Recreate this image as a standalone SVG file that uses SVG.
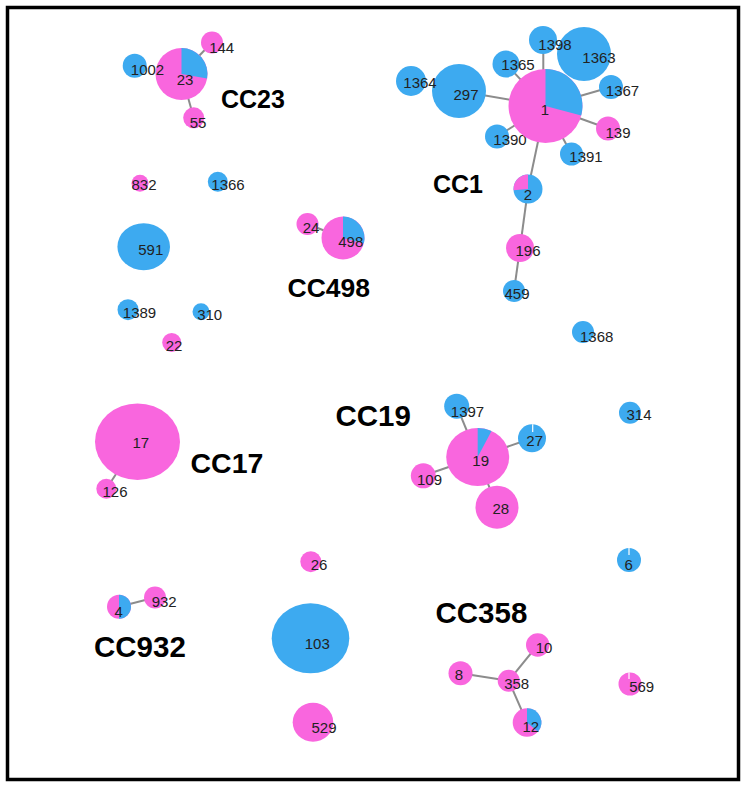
<svg xmlns="http://www.w3.org/2000/svg" width="746" height="787" viewBox="0 0 746 787">
<style>
.p{fill:#F966DE}
.b{fill:#3DAAF0}
.t{font-family:"Liberation Sans",Arial,sans-serif;font-size:15px;fill:#222;text-anchor:middle}
.cc{font-family:"Liberation Sans",Arial,sans-serif;font-weight:bold;fill:#000}
.e{stroke:#8C8C8C;stroke-width:2;fill:none}
.w{stroke:#fff;stroke-width:1.2}
</style>
<rect x="0" y="0" width="746" height="787" fill="#fff"/>
<rect x="7.5" y="7.5" width="731" height="772" fill="none" stroke="#000" stroke-width="3.5"/>
<g id="connectors" class="e">
<line x1="181.5" y1="74" x2="212" y2="42.5"/>
<line x1="181.5" y1="74" x2="193.7" y2="117.8"/>
<line x1="545.5" y1="106" x2="459" y2="91"/>
<line x1="545.5" y1="106" x2="506" y2="64"/>
<line x1="543.3" y1="106" x2="543.3" y2="40"/>
<line x1="545.5" y1="106" x2="611" y2="87"/>
<line x1="545.5" y1="106" x2="608" y2="128.5"/>
<line x1="545.5" y1="106" x2="571.5" y2="154"/>
<line x1="545.5" y1="106" x2="497" y2="136.5"/>
<line x1="545.5" y1="106" x2="528" y2="189"/>
<line x1="528" y1="189" x2="520" y2="248"/>
<line x1="520" y1="248" x2="514" y2="291"/>
<line x1="307.5" y1="224" x2="343" y2="238"/>
<line x1="137.5" y1="441.7" x2="106.3" y2="488.8"/>
<line x1="477.7" y1="457" x2="456.7" y2="406.2"/>
<line x1="477.7" y1="457" x2="532" y2="438.3"/>
<line x1="477.7" y1="457" x2="423.3" y2="475.8"/>
<line x1="477.7" y1="457" x2="497" y2="507.2"/>
<line x1="119" y1="606.7" x2="155" y2="597.5"/>
<line x1="508.7" y1="680.7" x2="537.7" y2="645"/>
<line x1="508.7" y1="680.7" x2="460.5" y2="673.3"/>
<line x1="508.7" y1="680.7" x2="527" y2="722.5"/>
</g>
<!-- CC23 -->
<g id="n144"><circle class="p" cx="212" cy="42.5" r="11"/><text class="t" x="221.7" y="52.5">144</text></g>
<g id="n55"><circle class="p" cx="193.7" cy="117.8" r="10.5"/><text class="t" x="198" y="127.5">55</text></g>
<g id="n23"><circle class="p" cx="181.5" cy="74" r="26"/><path class="b" d="M181.5,74 L181.5,48 A26,26 0 0 1 207.1,78.5 Z"/><text class="t" x="185" y="84.5" font-size="16">23</text></g>
<g id="n1002"><circle class="b" cx="134.7" cy="65.8" r="12"/><text class="t" x="147.5" y="74.5">1002</text></g>
<!-- CC1 -->
<g id="n297"><circle class="b" cx="459" cy="91" r="27"/><text class="t" x="466" y="99.5" font-size="16">297</text></g>
<g id="n1364"><circle class="b" cx="411" cy="81" r="15"/><text class="t" x="420" y="88">1364</text></g>
<g id="n1365"><circle class="b" cx="506" cy="64" r="13.5"/><text class="t" x="518" y="69.5">1365</text></g>
<g id="n1363"><circle class="b" cx="584" cy="54" r="27"/><text class="t" x="599" y="62.5">1363</text></g>
<g id="n1398"><circle class="b" cx="543" cy="40" r="14"/><text class="t" x="555" y="49.5">1398</text></g>
<g id="n1367"><circle class="b" cx="611" cy="87" r="12"/><text class="t" x="622.5" y="96">1367</text></g>
<g id="n139"><circle class="p" cx="608" cy="128.5" r="12"/><text class="t" x="618" y="138">139</text></g>
<g id="n1391"><circle class="b" cx="571.5" cy="154" r="11.5"/><text class="t" x="586" y="162">1391</text></g>
<g id="n1390"><circle class="b" cx="497" cy="136.5" r="12"/><text class="t" x="510" y="144.5">1390</text></g>
<g id="n1"><circle class="p" cx="545.5" cy="106" r="37"/><path class="b" d="M545.5,106 L545.5,69 A37,37 0 0 1 581.2,115.6 Z"/><text class="t" x="545" y="115" font-size="14">1</text></g>
<g id="n2"><circle class="b" cx="528" cy="189" r="14.5"/><path class="p" d="M528,189 L513.6,190.3 A14.5,14.5 0 0 1 528,174.5 Z"/><text class="t" x="528" y="199.5" font-size="13">2</text></g>
<g id="n196"><circle class="p" cx="520" cy="248" r="14"/><text class="t" x="528" y="256">196</text></g>
<g id="n459"><circle class="b" cx="514" cy="291" r="11"/><text class="t" x="517" y="299">459</text></g>
<!-- singles upper left -->
<g id="n832"><circle class="p" cx="140" cy="183.3" r="8.5"/><text class="t" x="144" y="189.5" font-size="14">832</text></g>
<g id="n1366"><circle class="b" cx="217.8" cy="181.7" r="10"/><text class="t" x="228" y="189.5" font-size="14">1366</text></g>
<g id="n591"><ellipse class="b" cx="143.7" cy="246.7" rx="26.3" ry="23.5"/><text class="t" x="150.8" y="254.5">591</text></g>
<g id="n1389"><circle class="b" cx="128" cy="309.7" r="10.5"/><text class="t" x="139.5" y="318" font-size="15">1389</text></g>
<g id="n310"><circle class="b" cx="201" cy="311.7" r="8.5"/><text class="t" x="209.7" y="319.5" font-size="14">310</text></g>
<g id="n22"><circle class="p" cx="171.7" cy="342.5" r="9.5"/><text class="t" x="174" y="350.5">22</text></g>
<!-- CC498 -->
<g id="n498"><circle class="p" cx="343" cy="238" r="21.5"/><path class="b" d="M343,238 L343,216.5 A21.5,21.5 0 0 1 363.8,243.6 Z"/><text class="t" x="350.8" y="246.5">498</text></g>
<g id="n24"><circle class="p" cx="307.5" cy="224" r="11"/><text class="t" x="311" y="232.5">24</text></g>
<g id="n1368"><circle class="b" cx="583" cy="332" r="11"/><text class="t" x="596.7" y="342">1368</text></g>
<!-- CC17 -->
<g id="n17"><ellipse class="p" cx="137.5" cy="441.7" rx="42.5" ry="38.3"/><text class="t" x="140.8" y="448" font-size="12">17</text></g>
<g id="n126"><circle class="p" cx="106.3" cy="488.8" r="10"/><text class="t" x="115" y="497">126</text></g>
<!-- CC19 -->
<g id="n1397"><circle class="b" cx="456.7" cy="406.2" r="12.5"/><text class="t" x="467.5" y="416.5" font-size="13">1397</text></g>
<g id="n27"><circle class="b" cx="532" cy="438.3" r="14"/><line class="w" x1="532.7" y1="424.3" x2="532.7" y2="432"/><text class="t" x="534.7" y="446">27</text></g>
<g id="n109"><circle class="p" cx="423.3" cy="475.8" r="12.5"/><text class="t" x="429.5" y="484.5" font-size="13">109</text></g>
<g id="n28"><circle class="p" cx="497" cy="507.2" r="21.5"/><text class="t" x="500.8" y="514">28</text></g>
<g id="n19"><ellipse class="p" cx="477.7" cy="457" rx="31.5" ry="29"/><path class="b" d="M477.7,457 L477.7,428 A31.5,29 0 0 1 491.5,430.9 Z"/><text class="t" x="480.7" y="466" font-size="13">19</text></g>
<g id="n314"><circle class="b" cx="630" cy="412.7" r="11"/><text class="t" x="639" y="420">314</text></g>
<!-- lower -->
<g id="n26"><circle class="p" cx="310.8" cy="561.7" r="10.5"/><text class="t" x="319" y="570">26</text></g>
<g id="n6"><circle class="b" cx="629" cy="560" r="12"/><line class="w" x1="629" y1="548" x2="629" y2="555"/><text class="t" x="628.7" y="570">6</text></g>
<g id="n4"><circle class="p" cx="119" cy="606.7" r="12"/><path class="b" d="M119,594.7 A12,12 0 0 1 119,618.7 Z"/><text class="t" x="118.7" y="617">4</text></g>
<g id="n932"><circle class="p" cx="155" cy="597.5" r="11"/><text class="t" x="164.2" y="607">932</text></g>
<g id="n103"><ellipse class="b" cx="310.5" cy="638.3" rx="38.8" ry="35"/><text class="t" x="317.3" y="649" font-size="18">103</text></g>
<g id="n529"><ellipse class="p" cx="313" cy="722.2" rx="20.3" ry="19.5"/><text class="t" x="324" y="733" font-size="18">529</text></g>
<!-- CC358 -->
<g id="n10"><circle class="p" cx="537.7" cy="645" r="11.7"/><text class="t" x="544" y="653">10</text></g>
<g id="n8"><circle class="p" cx="460.5" cy="673.3" r="12"/><text class="t" x="459" y="680">8</text></g>
<g id="n358"><circle class="p" cx="508.7" cy="680.7" r="11"/><text class="t" x="516.7" y="689">358</text></g>
<g id="n12"><circle class="p" cx="527" cy="722.5" r="14.3"/><path class="b" d="M527,722.5 L527,708.2 A14.3,14.3 0 0 1 538,731.7 Z"/><text class="t" x="530.8" y="731.5">12</text></g>
<g id="n569"><circle class="p" cx="630" cy="684" r="11.5"/><line class="w" x1="629" y1="672.5" x2="629" y2="679"/><text class="t" x="641.7" y="692">569</text></g>
<!-- cluster labels -->
<g id="labels">
<text class="cc" x="221" y="108.3" font-size="25">CC23</text>
<text class="cc" x="433" y="193.3" font-size="25">CC1</text>
<text class="cc" x="287.5" y="296.7" font-size="26.5">CC498</text>
<text class="cc" x="335.5" y="425.7" font-size="29.5">CC19</text>
<text class="cc" x="190.5" y="473.3" font-size="28.5">CC17</text>
<text class="cc" x="94" y="656.7" font-size="29.5">CC932</text>
<text class="cc" x="435.5" y="623.3" font-size="29.5">CC358</text>
</g>
</svg>
